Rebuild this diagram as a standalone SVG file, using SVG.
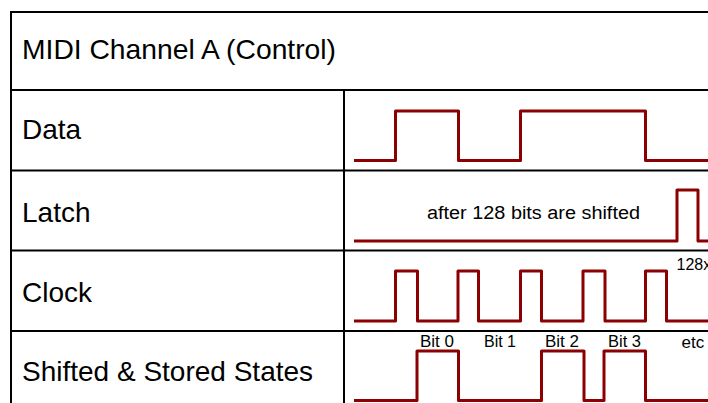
<svg xmlns="http://www.w3.org/2000/svg" width="708" height="403" viewBox="0 0 708 403">
<style>
.grid{stroke:#000;stroke-width:2;fill:none}
.wave{stroke:#8b0000;stroke-width:3;fill:none;stroke-linejoin:round}
.lbl{font-family:"Liberation Sans",Arial,sans-serif;font-size:28px;fill:#000}
.sm{font-family:"Liberation Sans",Arial,sans-serif;font-size:16px;fill:#000}
</style>
<rect width="708" height="403" fill="#fff"/>
<g id="grid">
<path class="grid" d="M11,403 V12 H710 M11,90 H710 M11,170.5 H710 M11,250.5 H710 M11,331 H710 M344,90 V403"/>
</g>
<g id="title"><text class="lbl" x="22" y="59" textLength="314" lengthAdjust="spacingAndGlyphs">MIDI Channel A (Control)</text></g>
<g id="data">
<text class="lbl" x="22" y="139">Data</text>
<path class="wave" d="M354,160.5 H395.5 V111 H458.5 V160.5 H520.5 V111 H645.5 V160.5 H710"/>
</g>
<g id="latch">
<text class="lbl" x="22" y="222">Latch</text>
<text class="sm" x="427" y="219" textLength="213" lengthAdjust="spacingAndGlyphs" style="font-size:18px">after 128 bits are shifted</text>
<path class="wave" d="M354,241 H677 V190 H698 V241 H710"/>
</g>
<g id="clock">
<text class="lbl" x="22" y="302">Clock</text>
<text class="sm" x="676.5" y="270">128x</text>
<path class="wave" d="M354,321 H395.5 V271 H417.5 V321 H458 V271 H478.5 V321 H520.5 V271 H541.5 V321 H583 V271 H605 V321 H645.5 V271 H666.5 V321 H710"/>
</g>
<g id="shifted">
<text class="lbl" x="22" y="381">Shifted &amp; Stored States</text>
<text class="sm" x="420" y="347" textLength="34" lengthAdjust="spacingAndGlyphs">Bit 0</text>
<text class="sm" x="484" y="347" textLength="32" lengthAdjust="spacingAndGlyphs">Bit 1</text>
<text class="sm" x="545" y="347" textLength="34" lengthAdjust="spacingAndGlyphs">Bit 2</text>
<text class="sm" x="608" y="347" textLength="33" lengthAdjust="spacingAndGlyphs">Bit 3</text>
<text class="sm" x="681.5" y="348" style="font-size:17px">etc</text>
<path class="wave" d="M354,400.5 H417 V351 H458.5 V400.5 H541.5 V351 H584 V400.5 H604 V351 H645.5 V400.5 H710"/>
</g>
</svg>
